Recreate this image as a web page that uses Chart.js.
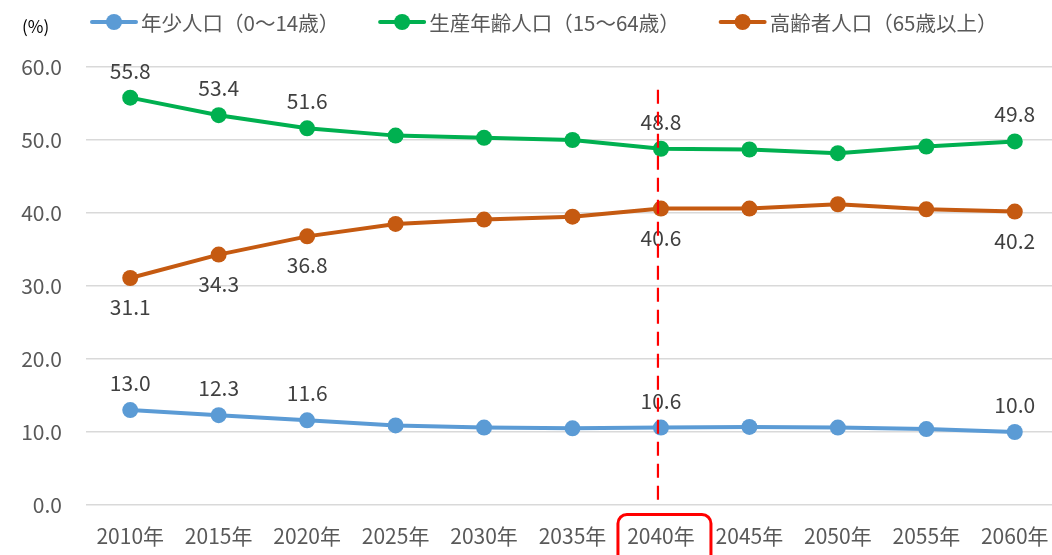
<!DOCTYPE html>
<html><head><meta charset="utf-8">
<script src="https://cdn.jsdelivr.net/npm/chart.js@4.4.1/dist/chart.umd.min.js"></script>
<style>
html,body{margin:0;padding:0;background:#fff;overflow:hidden;width:1052px;height:555px;}
#wrap{position:relative;width:1067px;height:555px;}
</style></head>
<body><div id="wrap"><canvas id="c"></canvas></div>
<script>
const categories = ['2010年','2015年','2020年','2025年','2030年','2035年','2040年','2045年','2050年','2055年','2060年'];
const youth   = [13.0, 12.3, 11.6, 10.9, 10.6, 10.5, 10.6, 10.7, 10.6, 10.4, 10.0];
const working = [55.8, 53.4, 51.6, 50.6, 50.3, 50.0, 48.8, 48.7, 48.2, 49.1, 49.8];
const elderly = [31.1, 34.3, 36.8, 38.5, 39.1, 39.5, 40.6, 40.6, 41.2, 40.5, 40.2];
const seriesNames = ['年少人口（0〜14歳）','生産年齢人口（15〜64歳）','高齢者人口（65歳以上）'];
const seriesColors = ['#5b9bd5','#00b050','#c55a11'];
const labelIdx = [0, 1, 2, 6, 10];
const labelSide = ['above','above','below'];
const yTicks = [0, 10, 20, 30, 40, 50, 60];
const highlightIdx = 6;
const unitText = '(%)';

const FONT = '"Noto Sans CJK JP", "Noto Sans", sans-serif';

const dataLabelsPlugin = {
  id: 'dataLabels',
  afterDatasetsDraw(chart) {
    const ctx = chart.ctx;
    ctx.save();
    ctx.font = '21px ' + FONT;
    ctx.fillStyle = '#404040';
    ctx.textAlign = 'center';
    ctx.textBaseline = 'middle';
    chart.data.datasets.forEach((ds, di) => {
      const meta = chart.getDatasetMeta(di);
      labelIdx.forEach(i => {
        const p = meta.data[i];
        const off = labelSide[di] === 'above' ? -27 : 29;
        ctx.fillText(ds.data[i].toFixed(1), p.x, p.y + off);
      });
    });
    ctx.restore();
  }
};

const overlayPlugin = {
  id: 'overlay',
  afterDraw(chart) {
    const ctx = chart.ctx;
    const xs = chart.scales.x, ys = chart.scales.y;
    const cx = xs.getPixelForValue(highlightIdx);
    ctx.save();
    // dashed vertical line
    ctx.strokeStyle = '#ff0000';
    ctx.lineWidth = 2.2;
    ctx.setLineDash([14, 8]);
    ctx.beginPath();
    ctx.moveTo(cx - 3, ys.getPixelForValue(56.9));
    ctx.lineTo(cx - 3, chart.chartArea.bottom);
    ctx.stroke();
    ctx.setLineDash([]);
    // rounded rectangle around highlighted x label
    ctx.lineWidth = 3;
    const l = cx - 43, r = cx + 50, t = chart.chartArea.bottom + 9.5, b = 570, rad = 9;
    ctx.beginPath();
    ctx.moveTo(l, b);
    ctx.lineTo(l, t + rad);
    ctx.arcTo(l, t, l + rad, t, rad);
    ctx.lineTo(r - rad, t);
    ctx.arcTo(r, t, r, t + rad, rad);
    ctx.lineTo(r, b);
    ctx.stroke();

    // unit text
    ctx.fillStyle = '#000000';
    ctx.font = '17px ' + FONT;
    ctx.textAlign = 'left';
    ctx.textBaseline = 'middle';
    ctx.fillText(unitText, 22, 27);

    // legend
    ctx.font = '20.5px ' + FONT;
    ctx.fillStyle = '#595959';
    let x = 90;
    const y = 22;
    chart.data.datasets.forEach((ds, di) => {
      ctx.strokeStyle = ds.borderColor;
      ctx.lineWidth = 4;
      ctx.lineCap = 'round';
      ctx.beginPath();
      ctx.moveTo(x + 2, y); ctx.lineTo(x + 46, y);
      ctx.stroke();
      ctx.fillStyle = ds.borderColor;
      ctx.beginPath();
      ctx.arc(x + 24, y, 8, 0, Math.PI * 2);
      ctx.fill();
      ctx.fillStyle = '#595959';
      ctx.fillText(ds.label, x + 51, y + 1);
      x += 51 + ctx.measureText(ds.label).width + 39;
    });
    ctx.restore();
  }
};

const mk = (i, arr) => ({
  label: seriesNames[i],
  data: arr,
  borderColor: seriesColors[i],
  backgroundColor: seriesColors[i],
  borderWidth: 4,
  pointRadius: 8,
  pointHoverRadius: 8,
  pointBorderWidth: 0,
  pointBackgroundColor: seriesColors[i],
  tension: 0,
  fill: false
});

new Chart(document.getElementById('c'), {
  type: 'line',
  data: {
    labels: categories,
    datasets: [mk(0, youth), mk(1, working), mk(2, elderly)]
  },
  options: {
    responsive: true,
    maintainAspectRatio: false,
    animation: false,
    events: [],
    layout: { padding: { top: 67, right: 0, bottom: 0, left: 0 } },
    plugins: { legend: { display: false }, tooltip: { enabled: false }, title: { display: false } },
    scales: {
      x: {
        offset: true,
        grid: { display: false, drawTicks: false },
        border: { display: false },
        ticks: { color: '#595959', font: { family: FONT, size: 21 }, padding: 18, maxRotation: 0, autoSkip: false },
        afterFit(s) { s.height = 50; }
      },
      y: {
        min: 0, max: 60,
        afterBuildTicks(s) { s.ticks = yTicks.map(v => ({ value: v })); },
        grid: { color: '#d9d9d9', lineWidth: 1.5, drawTicks: false },
        border: { display: false },
        ticks: { color: '#595959', font: { family: FONT, size: 21 }, padding: 24, callback: v => Number(v).toFixed(1) },
        afterFit(s) { s.width = 86; }
      }
    }
  },
  plugins: [dataLabelsPlugin, overlayPlugin]
});
</script></body></html>
